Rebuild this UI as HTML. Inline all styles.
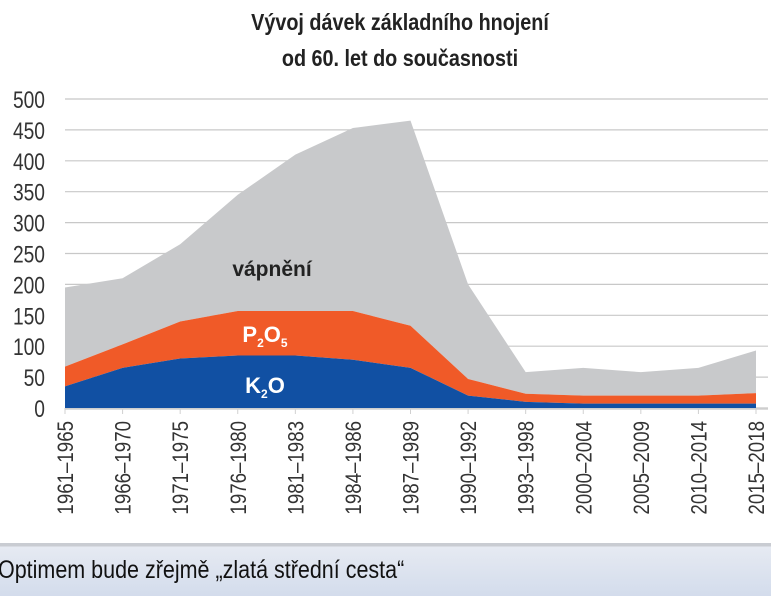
<!DOCTYPE html>
<html><head><meta charset="utf-8"><style>
body{margin:0;width:771px;height:596px;overflow:hidden;background:#fff;font-family:"Liberation Sans",sans-serif}
#footer{position:absolute;left:0;top:543px;width:771px;height:53px;background:linear-gradient(#c9ccd2 0,#c9ccd2 3px,#e6eaf2 4px,#d3dcec 100%)}
#footer span{position:absolute;left:-2px;top:13px;font-size:25px;color:#111;transform:scaleX(0.86);transform-origin:left}
</style></head><body>
<svg width="771" height="545" style="position:absolute;left:0;top:0">
<g id="title" font-weight="bold" font-size="23" fill="#222" text-anchor="middle">
<text x="400" y="30" transform="translate(400 0) scale(0.86 1) translate(-400 0)">Vývoj dávek základního hnojení</text>
<text x="400" y="66" transform="translate(400 0) scale(0.86 1) translate(-400 0)">od 60. let do současnosti</text>
</g>
<g id="grid"></g><g id="areas"></g><g id="axes"></g>
<text x="272" y="276" font-size="21" font-weight="bold" fill="#222" text-anchor="middle">vápnění</text>
<text x="265" y="342" font-size="22" font-weight="bold" fill="#fff" text-anchor="middle">P<tspan font-size="12" dy="5">2</tspan><tspan dy="-5">O</tspan><tspan font-size="12" dy="5">5</tspan></text>
<text x="265" y="393" font-size="22" font-weight="bold" fill="#fff" text-anchor="middle">K<tspan font-size="12" dy="5">2</tspan><tspan dy="-5">O</tspan></text>
</svg>
<div id="footer"><span>Optimem bude zřejmě „zlatá střední cesta“</span></div>
<script>
const categories=["1961–1965","1966–1970","1971–1975","1976–1980","1981–1983","1984–1986","1987–1989","1990–1992","1993–1998","2000–2004","2005–2009","2010–2014","2015–2018"];
const k2o=[35,65,80,85,85,78,65,20,10,7,7,7,7];
const p2o5=[32,38,60,72,72,79,68,27,13,13,13,13,17];
const liming=[128,107,125,188,253,296,332,153,35,45,38,45,69];
const yTicks=[0,50,100,150,200,250,300,350,400,450,500];
const NS="http://www.w3.org/2000/svg";
const x0=65,x1=756,yb=408,yt=99;
const X=i=>x0+i*(x1-x0)/(categories.length-1);
const Y=v=>yb-v*(yb-yt)/500;
function mk(t,a,p){const e=document.createElementNS(NS,t);for(const k in a)e.setAttribute(k,a[k]);p.appendChild(e);return e;}
const grid=document.getElementById('grid'),areas=document.getElementById('areas'),axes=document.getElementById('axes');
yTicks.forEach(v=>{
 const l=mk('line',{x1:x0,x2:x1+12,y1:Y(v),y2:Y(v),stroke:'#c8c8c8','stroke-width':1.2},grid);
 
 
 const t=mk('text',{x:45,y:Y(v)+9,'font-size':24,fill:'#333','text-anchor':'end',transform:`translate(45 0) scale(0.8 1) translate(-45 0)`},axes);
 t.textContent=v;
 
 
});
const series=[[k2o,'#1150a3','k2o-area'],[p2o5,'#f05a28','p2o5-area'],[liming,'#c8c9cb','liming-area']];
let base=categories.map(()=>0);
const paths=[];
series.forEach(([vals,col,name])=>{
 const top=base.map((b,i)=>b+vals[i]);
 let d='M'+top.map((v,i)=>X(i)+','+Y(v)).join('L');
 for(let i=categories.length-1;i>=0;i--)d+='L'+X(i)+','+Y(base[i]);
 paths.push([d+'Z',col,name]);base=top;
});
paths.reverse().forEach(([d,col,name])=>{
 const p=mk('path',{d:d,fill:col},areas);
 
 
});
mk('line',{x1:x0,x2:x1+12,y1:yb+1,y2:yb+1,stroke:'#d0d0d0','stroke-width':1.5},axes);
categories.forEach((c,i)=>{
 mk('line',{x1:X(i),x2:X(i),y1:yb,y2:yb+6,stroke:'#d0d0d0'},axes);
 const t=mk('text',{x:0,y:0,'font-size':22,fill:'#333','text-anchor':'end',transform:`translate(${X(i)+8},${yb+13}) rotate(-90) scale(0.85 1)`},axes);
 t.textContent=c;
 
 
});
</script>
</body></html>
